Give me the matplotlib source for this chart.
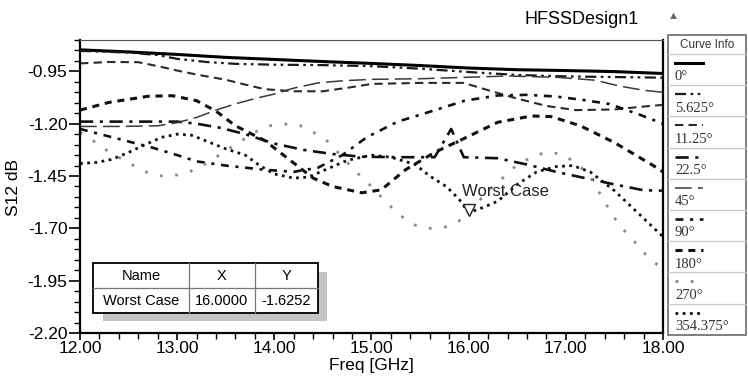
import matplotlib
matplotlib.use('Agg')
import matplotlib.pyplot as plt
from matplotlib.patches import Rectangle
from matplotlib.ticker import MultipleLocator, FixedLocator, FormatStrFormatter

plt.rcParams['font.family'] = ['Liberation Sans', 'DejaVu Sans']
plt.rcParams['axes.unicode_minus'] = False

# S12 [dB] vs frequency [GHz] for each phase state
f_0 = [12.0, 12.5, 13.0, 13.5, 14.0, 14.5, 15.0, 15.5, 16.0, 16.5, 17.0, 17.5, 18.0]
s_0 = [-0.847, -0.857, -0.869, -0.883, -0.893, -0.903, -0.912, -0.922, -0.934, -0.942, -0.946, -0.951, -0.96]

f_5 = [12.0, 12.5, 12.8, 13.0, 13.3, 13.6, 14.0, 14.5, 15.0, 15.5, 16.0, 16.5, 17.0, 17.5, 18.0]
s_5 = [-0.852, -0.86, -0.872, -0.89, -0.905, -0.914, -0.918, -0.92, -0.925, -0.937, -0.953, -0.967, -0.974, -0.977, -0.98]

f_11 = [12.0, 12.3, 12.6, 12.85, 13.0, 13.2, 13.5, 13.7, 13.9, 14.2, 14.5, 14.8, 15.0, 15.5, 15.95,
        16.2, 16.5, 16.8, 17.1, 17.5, 17.8, 18.0]
s_11 = [-0.912, -0.905, -0.906, -0.93, -0.946, -0.965, -0.99, -1.013, -1.035, -1.045, -1.045, -1.025,
        -1.01, -1.005, -1.005, -1.04, -1.08, -1.115, -1.135, -1.132, -1.118, -1.11]

f_22 = [12.0, 12.5, 13.0, 13.2, 13.45, 13.7, 14.0, 14.3, 14.6, 14.9, 15.3, 15.65, 15.82, 15.95,
        16.3, 16.6, 16.9, 17.2, 17.5, 17.8, 18.0]
s_22 = [-1.19, -1.19, -1.19, -1.2, -1.22, -1.25, -1.295, -1.325, -1.345, -1.358, -1.36, -1.36, -1.225,
        -1.36, -1.365, -1.395, -1.43, -1.46, -1.49, -1.518, -1.52]

f_45 = [12.0, 12.4, 12.8, 13.0, 13.2, 13.4, 13.6, 13.8, 14.0, 14.2, 14.45, 14.7, 15.0, 15.5, 16.0,
        16.4, 16.9, 17.3, 17.55, 17.8, 18.0]
s_45 = [-1.213, -1.213, -1.21, -1.195, -1.17, -1.135, -1.105, -1.08, -1.058, -1.03, -1.005, -0.995,
        -0.988, -0.985, -0.978, -0.972, -0.978, -0.992, -1.02, -1.04, -1.05]

f_90 = [12.0, 12.25, 12.5, 12.75, 13.0, 13.2, 13.5, 13.9, 14.2, 14.45, 14.7, 14.95, 15.27, 15.62,
        15.96, 16.3, 16.6, 16.9, 17.2, 17.45, 17.75, 18.0]
s_90 = [-1.225, -1.255, -1.285, -1.315, -1.35, -1.38, -1.40, -1.42, -1.43, -1.41, -1.35, -1.265,
        -1.19, -1.14, -1.09, -1.065, -1.062, -1.07, -1.088, -1.106, -1.155, -1.2]

f_180 = [12.0, 12.3, 12.7, 12.95, 13.2, 13.4, 13.6, 13.9, 14.15, 14.4, 14.6, 14.9, 15.1, 15.35,
         15.65, 16.0, 16.3, 16.65, 16.85, 17.15, 17.5, 17.9, 18.0]
s_180 = [-1.135, -1.098, -1.069, -1.066, -1.09, -1.14, -1.21, -1.28, -1.37, -1.46, -1.50, -1.53,
         -1.516, -1.42, -1.337, -1.26, -1.193, -1.163, -1.166, -1.21, -1.29, -1.40, -1.43]

f_270 = [12.0, 12.1, 12.25, 12.4, 12.55, 12.7, 12.85, 13.0, 13.15, 13.3, 13.45, 13.6, 13.8, 13.95,
         14.1, 14.25, 14.4, 14.55, 14.7, 14.85, 15.0, 15.15, 15.3, 15.45, 15.6, 15.75, 15.9, 16.05,
         16.2, 16.35, 16.5, 16.65, 16.8, 16.95, 17.1, 17.25, 17.4, 17.55, 17.7, 17.85, 18.0]
s_270 = [-1.24, -1.27, -1.32, -1.36, -1.40, -1.435, -1.45, -1.445, -1.425, -1.39, -1.345, -1.30,
         -1.24, -1.21, -1.202, -1.205, -1.24, -1.285, -1.36, -1.434, -1.50, -1.575, -1.64, -1.685,
         -1.70, -1.695, -1.665, -1.60, -1.52, -1.46, -1.395, -1.36, -1.335, -1.345, -1.385, -1.45,
         -1.575, -1.685, -1.76, -1.84, -1.895]

f_354 = [12.0, 12.17, 12.33, 12.5, 12.67, 12.84, 13.0, 13.15, 13.3, 13.5, 13.7, 13.85, 14.0, 14.2,
         14.35, 14.5, 14.75, 15.0, 15.2, 15.45, 15.6, 15.77, 15.9, 16.0, 16.15, 16.3, 16.5, 16.7,
         16.9, 17.07, 17.25, 17.5, 17.75, 18.0]
s_354 = [-1.39, -1.385, -1.37, -1.337, -1.30, -1.265, -1.25, -1.255, -1.283, -1.32, -1.35, -1.40,
         -1.44, -1.46, -1.455, -1.425, -1.375, -1.35, -1.36, -1.395, -1.45, -1.50, -1.56, -1.6252,
         -1.60, -1.57, -1.49, -1.43, -1.405, -1.40, -1.43, -1.52, -1.63, -1.74]

labels = ['0°', '5.625°', '11.25°', '22.5°', '45°', '90°', '180°', '270°', '354.375°']
marker_name = 'Worst Case'
marker_x = 16.0
marker_y = -1.6252

xticks = [12, 13, 14, 15, 16, 17, 18]
yticks = [-2.20, -1.95, -1.70, -1.45, -1.20, -0.95]

series = [(f_0, s_0), (f_5, s_5), (f_11, s_11), (f_22, s_22), (f_45, s_45),
          (f_90, s_90), (f_180, s_180), (f_270, s_270), (f_354, s_354)]

styles = [
    dict(color='black', lw=2.2, ls='-'),
    dict(color='#1a1a1a', lw=1.6, ls=(0, (5, 2, 1.2, 2, 1.2, 2))),
    dict(color='#2a2a2a', lw=1.5, ls=(0, (4, 2.5))),
    dict(color='#111111', lw=1.9, ls=(0, (5, 2.5, 1.2, 2.5))),
    dict(color='#3a3a3a', lw=1.1, ls=(0, (11, 4))),
    dict(color='#111111', lw=1.9, ls=(0, (3, 2.5, 1.2, 2.5))),
    dict(color='#111111', lw=2.2, ls=(0, (2.3, 1.9))),
    dict(color='#8a8a8a', lw=2.0, ls=(0, (1, 4.5))),
    dict(color='#111111', lw=2.0, ls=(0, (1, 1.6))),
]

fig = plt.figure(figsize=(7.48, 3.79), dpi=100)
ax = fig.add_axes([80 / 748, 46 / 379, 583 / 748, 293 / 379])

for (fx, sy), st in zip(series, styles):
    ax.plot(fx, sy, **st)

ax.plot([marker_x], [marker_y + 0.012], marker='v', ms=8, mfc='white', mec='#222222', mew=1.0)
ax.text(15.93, -1.525, marker_name, fontsize=12, va='center', ha='left', color='#222222')

ax.set_xlim(12, 18)
ax.set_ylim(-2.2, -0.8)
ax.xaxis.set_major_locator(FixedLocator(xticks))
ax.xaxis.set_minor_locator(MultipleLocator(0.2))
ax.yaxis.set_major_locator(FixedLocator(yticks))
ax.yaxis.set_minor_locator(MultipleLocator(0.05))
ax.xaxis.set_major_formatter(FormatStrFormatter('%.2f'))
ax.yaxis.set_major_formatter(FormatStrFormatter('%.2f'))
ax.tick_params(axis='y', which='major', direction='out', length=8, width=1.2, labelsize=12.5, pad=1)
ax.tick_params(axis='y', which='minor', direction='out', length=4, width=1.0)
ax.tick_params(axis='x', which='major', direction='out', length=5, width=1.2, labelsize=12.5, pad=1)
ax.tick_params(axis='x', which='minor', direction='out', length=4, width=1.0)

for side in ['left', 'bottom', 'right']:
    ax.spines[side].set_linewidth(1.6)
ax.spines['top'].set_linewidth(0.8)
ax.spines['top'].set_color('#555555')

ax.set_xlabel('Freq [GHz]', fontsize=12.5, labelpad=1)
fig.text(13 / 748, 1 - 188 / 379, 'S12 dB', rotation=90, ha='center', va='center', fontsize=12.5)

# overlay in pixel coordinates for title, legend and marker table
ov = fig.add_axes([0, 0, 1, 1])
ov.set_xlim(0, 748)
ov.set_ylim(379, 0)
ov.axis('off')
ov.patch.set_alpha(0)

ov.text(582, 20, 'HFSSDesign1', fontsize=13, ha='center', va='center')
ov.text(673, 16, '▲', fontsize=8, ha='center', va='center', color='#666666')

# marker table
ov.add_patch(Rectangle((103, 272), 224, 49, facecolor='#c4c4c4', edgecolor='none'))
ov.add_patch(Rectangle((93, 263), 225, 50, facecolor='white', edgecolor='black', lw=1.3))
ov.plot([93, 318], [288, 288], color='#777777', lw=0.9)
ov.plot([189, 189], [263, 313], color='#777777', lw=0.9)
ov.plot([255, 255], [263, 313], color='#777777', lw=0.9)
ov.text(141, 276, 'Name', fontsize=10.5, ha='center', va='center')
ov.text(222, 276, 'X', fontsize=10.5, ha='center', va='center')
ov.text(286.5, 276, 'Y', fontsize=10.5, ha='center', va='center')
ov.text(141, 301, marker_name, fontsize=10.5, ha='center', va='center')
ov.text(222, 301, '%.4f' % marker_x, fontsize=10.5, ha='center', va='center')
ov.text(286.5, 301, '%.4f' % marker_y, fontsize=10.5, ha='center', va='center')

# curve info legend
ov.add_patch(Rectangle((668, 35), 78, 300, facecolor='white', edgecolor='#6a6a6a', lw=1.2))
ov.text(707, 45, 'Curve Info', fontsize=8.5, ha='center', va='center', color='#333333')
row_h = 31.2
for i, (lab, st) in enumerate(zip(labels, styles)):
    top = 54 + i * row_h
    ov.plot([668, 746], [top, top], color='#c8c8c8', lw=0.9)
    ov.plot([675, 703], [top + 9, top + 9], **st)
    ov.text(675, top + 23, lab, fontsize=10.5, ha='left', va='center',
            family=['Liberation Serif', 'DejaVu Serif'], color='#333333')

fig.savefig('out.png', dpi=100)
